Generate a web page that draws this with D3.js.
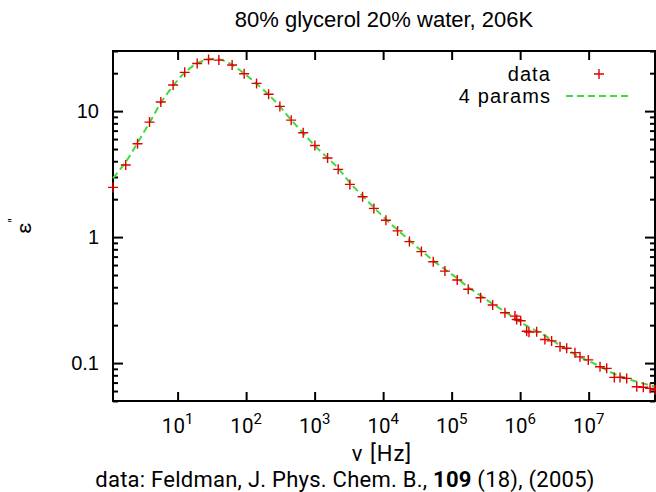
<!DOCTYPE html>
<html>
<head>
<meta charset="utf-8">
<script src="https://cdn.jsdelivr.net/npm/d3@7"></script>
<style>
  html, body { margin: 0; padding: 0; background: #fff; }
  svg { display: block; }
</style>
</head>
<body>
<div id="chart"></div>
<script>
// Dielectric loss of 80% glycerol / 20% water at 206 K
const freqHz = [
  1.14, 1.75, 2.6, 3.89, 5.69, 8.6, 12.7, 19.3, 28.3, 40, 62.5, 93.6, 142, 213, 311, 455,
  681, 1009, 1546, 2208, 3273, 5015, 7330, 10990, 16270, 24200, 36200, 53900, 79800,
  120700, 174700, 265000, 397000, 600000,
  840000, 890000, 1.018e6, 1.245e6, 1.345e6, 1.743e6, 2.30e6, 2.88e6, 3.82e6, 4.78e6,
  6.31e6, 7.47e6, 9.88e6, 1.465e7, 1.835e7, 2.37e7, 2.87e7, 3.59e7, 5.04e7, 6.28e7,
  7.87e7, 9.3e7
];
const epsLoss = [
  2.48, 3.73, 5.50, 8.18, 11.8, 16.1, 20.3, 23.9, 25.7, 25.4, 23.2, 19.8, 16.6, 13.6, 10.9, 8.48,
  6.73, 5.34, 4.24, 3.45, 2.62, 2.09, 1.69, 1.36, 1.12, 0.921, 0.767, 0.637, 0.537,
  0.456, 0.385, 0.330, 0.289, 0.251,
  0.236, 0.222, 0.217, 0.179, 0.176, 0.177, 0.154, 0.150, 0.135, 0.131,
  0.121, 0.112, 0.106, 0.0935, 0.0908, 0.0770, 0.0770, 0.0756, 0.0649, 0.0642,
  0.0630, 0.0615
];

// Four-parameter fit curve
const fitHz = [
  1.14, 1.75, 2.6, 3.89, 5.69, 8.6, 12.7, 19.3, 28, 35, 45, 62.5, 93.6, 142, 213, 311, 455,
  681, 1009, 1546, 2208, 3273, 5015, 7330, 10990, 16270, 24200, 36200, 53900, 79800,
  120700, 174700, 259000, 397000, 600000, 785000, 1.2e6, 2.44e6, 4e6, 7.47e6, 1.3e7,
  2.27e7, 4e7, 9.3e7
];
const fitEps = [
  2.94, 3.95, 5.6, 8.1, 11.6, 15.9, 20.2, 23.9, 25.8, 26.0, 25.4, 23.3, 19.9, 16.5, 13.5, 10.9, 8.5,
  6.7, 5.3, 4.25, 3.52, 2.70, 2.12, 1.72, 1.38, 1.14, 0.94, 0.78, 0.65, 0.555,
  0.47, 0.40, 0.346, 0.295, 0.256, 0.233, 0.200, 0.162, 0.136, 0.112, 0.097,
  0.083, 0.074, 0.065
];

const xTickExp = [1, 2, 3, 4, 5, 6, 7];
const yTickLabels = ["0.1", "1", "10"];
const yTickValues = [0.1, 1, 10];

const titleText = "80% glycerol 20% water, 206K";
const legendLabels = ["data", "4 params"];

const W = 656, H = 492;
const L = 113, R = 655, T = 51, B = 401;

const svg = d3.select("#chart").append("svg")
  .attr("width", W).attr("height", H)
  .attr("viewBox", `0 0 ${W} ${H}`);

const x = d3.scaleLog().domain([1.14, 9.3e7]).range([L, R]);
const y = d3.scaleLog().domain([0.05, 30]).range([B, T]);

const helv = "'Liberation Sans', Arial, Helvetica, sans-serif";
const cmss = "Roboto, 'DejaVu Sans', sans-serif";

// Minor ticks for y (2..9 in each decade)
const yMinor = [];
[0.01, 0.1, 1, 10].forEach(d => {
  for (let k = 2; k <= 9; k++) {
    const v = d * k;
    if (v >= 0.05 && v <= 30 && !yTickValues.includes(v)) yMinor.push(v);
  }
});

const g = svg.append("g");

// Axes with inward ticks
const xMajor = xTickExp.map(e => Math.pow(10, e));
const xBottom = d3.axisBottom(x).tickValues(xMajor).tickSize(-9).tickFormat("");
const xTop = d3.axisTop(x).tickValues(xMajor).tickSize(-9).tickFormat("");
const yLeftMajor = d3.axisLeft(y).tickValues(yTickValues).tickSize(-10).tickFormat("");
const yLeftMinor = d3.axisLeft(y).tickValues(yMinor).tickSize(-5).tickFormat("");
const yRightMajor = d3.axisRight(y).tickValues(yTickValues).tickSize(-10).tickFormat("");
const yRightMinor = d3.axisRight(y).tickValues(yMinor).tickSize(-5).tickFormat("");

function styleAxis(sel) {
  sel.select(".domain").remove();
  sel.selectAll(".tick line").attr("stroke", "#000").attr("stroke-width", 2);
}
g.append("g").attr("transform", `translate(0,${B})`).call(xBottom).call(styleAxis);
g.append("g").attr("transform", `translate(0,${T})`).call(xTop).call(styleAxis);
g.append("g").attr("transform", `translate(${L},0)`).call(yLeftMajor).call(styleAxis);
g.append("g").attr("transform", `translate(${L},0)`).call(yLeftMinor).call(styleAxis);
g.append("g").attr("transform", `translate(${R},0)`).call(yRightMajor).call(styleAxis);
g.append("g").attr("transform", `translate(${R},0)`).call(yRightMinor).call(styleAxis);

// Frame
g.append("rect")
  .attr("x", L).attr("y", T).attr("width", R - L).attr("height", B - T)
  .attr("fill", "none").attr("stroke", "#000").attr("stroke-width", 2);

// Y tick labels
g.selectAll(".ylab").data(yTickValues).enter().append("text")
  .attr("class", "ylab")
  .attr("x", 99).attr("y", d => y(d) + 7)
  .attr("text-anchor", "end")
  .attr("font-family", helv).attr("font-size", 20)
  .text((d, i) => yTickLabels[i]);

// X tick labels: 10 with superscript exponent
const xl = g.selectAll(".xlab").data(xTickExp).enter().append("text")
  .attr("class", "xlab")
  .attr("x", d => x(Math.pow(10, d)))
  .attr("y", 433)
  .attr("text-anchor", "middle")
  .attr("font-family", cmss).attr("font-size", 20.5);
xl.append("tspan").text("10");
xl.append("tspan").attr("dy", -9).attr("font-size", 15).text(d => d);

// Fit curve
const line = d3.line()
  .x((d, i) => x(fitHz[i]))
  .y(d => y(d))
  .curve(d3.curveCatmullRom.alpha(0.5));
g.append("path")
  .datum(fitEps)
  .attr("d", line)
  .attr("fill", "none")
  .attr("stroke", "#3ddc3d")
  .attr("stroke-width", 2)
  .attr("stroke-dasharray", "7,4");

// Data markers (+)
const plus = "M-5,0H5M0,-5V5";
g.selectAll(".pt").data(epsLoss).enter().append("path")
  .attr("class", "pt")
  .attr("transform", (d, i) => `translate(${x(freqHz[i])},${y(d)})`)
  .attr("d", plus)
  .attr("stroke", "#e00000")
  .attr("stroke-width", 1.4)
  .attr("fill", "none");

// Legend
const lg = g.append("g");
lg.append("text").attr("x", 551).attr("y", 80.5).attr("text-anchor", "end")
  .attr("font-family", helv).attr("font-size", 20).attr("letter-spacing", 1.1)
  .text(legendLabels[0]);
lg.append("path").attr("transform", "translate(599,74)").attr("d", plus)
  .attr("stroke", "#e00000").attr("stroke-width", 1.4);
lg.append("text").attr("x", 551).attr("y", 103).attr("text-anchor", "end")
  .attr("font-family", helv).attr("font-size", 20).attr("letter-spacing", 1.1)
  .text(legendLabels[1]);
lg.append("line").attr("x1", 566).attr("x2", 632).attr("y1", 96).attr("y2", 96)
  .attr("stroke", "#3ddc3d").attr("stroke-width", 2).attr("stroke-dasharray", "7,4");

// Title
svg.append("text").attr("x", (L + R) / 2).attr("y", 27)
  .attr("text-anchor", "middle")
  .attr("font-family", helv).attr("font-size", 22)
  .text(titleText);

// Axis labels
svg.append("text").attr("x", (L + R) / 2 - 2).attr("y", 461)
  .attr("text-anchor", "middle")
  .attr("font-family", cmss).attr("font-size", 22).attr("letter-spacing", 1)
  .text("ν [Hz]");

const yl = svg.append("text")
  .attr("transform", `translate(31,${(T + B) / 2}) rotate(-90)`)
  .attr("text-anchor", "middle")
  .attr("font-family", cmss).attr("font-size", 21);
yl.append("tspan").text("ε");
yl.append("tspan").attr("dy", -12).attr("font-size", 14).text("''");

// Source note
const src = svg.append("text").attr("x", 345).attr("y", 487)
  .attr("text-anchor", "middle")
  .attr("font-family", cmss).attr("font-size", 22).attr("letter-spacing", 0.25);
src.append("tspan").text("data: Feldman, J. Phys. Chem. B., ");
src.append("tspan").attr("font-weight", "bold").text("109");
src.append("tspan").text(" (18), (2005)");
</script>
</body>
</html>
